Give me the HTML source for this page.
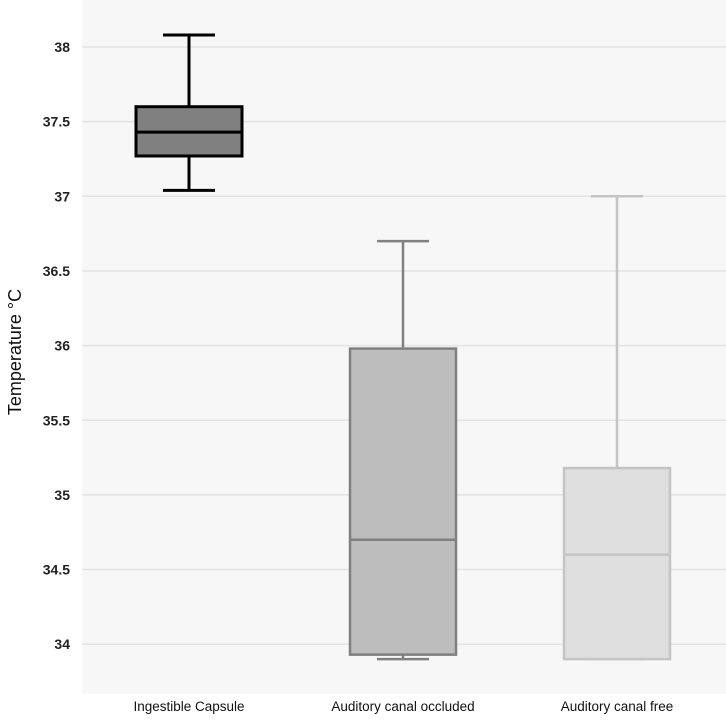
<!DOCTYPE html>
<html><head><meta charset="utf-8"><style>
body{margin:0;background:#fff;width:726px;height:716px;overflow:hidden}
text{font-family:"Liberation Sans",Arial,sans-serif}
</style></head><body>
<svg id="chart" width="726" height="716" xmlns="http://www.w3.org/2000/svg">
<rect x="82" y="0" width="644" height="694" fill="#f7f7f7"/>
<g id="grid"></g><g id="boxes"></g><g id="labels"></g>
<text transform="translate(21,352) rotate(-90)" text-anchor="middle" font-size="18" fill="#111">Temperature °C</text>
</svg>
<script>
const categories=["Ingestible Capsule","Auditory canal occluded","Auditory canal free"];
const whiskerLow=[37.04,33.9,33.9];
const q1=[37.27,33.93,33.9];
const median=[37.43,34.7,34.6];
const q3=[37.6,35.98,35.18];
const whiskerHigh=[38.08,36.7,37.0];
const yTicks=[34,34.5,35,35.5,36,36.5,37,37.5,38];
const yTickLabels=["34","34.5","35","35.5","36","36.5","37","37.5","38"];
const fills=["#808080","#bdbdbd","#dedede"];
const strokes=["#000","#808080","#c4c4c4"];
const NS="http://www.w3.org/2000/svg";
const y=v=>47+(38-v)*149.3;
const xc=i=>189+i*214;
function mk(t,a,p){const e=document.createElementNS(NS,t);for(const k in a)e.setAttribute(k,a[k]);p.appendChild(e);return e;}
const g=document.getElementById('grid'),b=document.getElementById('boxes'),l=document.getElementById('labels');
yTicks.forEach((v,i)=>{
 const ln=mk('line',{x1:82,x2:726,y1:y(v),y2:y(v),stroke:'#e2e2e8','stroke-width':1.5},g);
 
 
 const t=mk('text',{x:70,y:y(v)+5,'text-anchor':'end','font-size':14,'font-weight':'bold',fill:'#222'},l);
 t.textContent=yTickLabels[i];
 
 
});
categories.forEach((c,i)=>{
 const x=xc(i),sw=i==0?3:2.5,s=strokes[i];
 const grp=mk('g',{},b);
 
 
 mk('line',{x1:x,x2:x,y1:y(whiskerHigh[i]),y2:y(q3[i]),stroke:s,'stroke-width':sw},grp);
 mk('line',{x1:x,x2:x,y1:y(q1[i]),y2:y(whiskerLow[i]),stroke:s,'stroke-width':sw},grp);
 mk('line',{x1:x-26,x2:x+26,y1:y(whiskerHigh[i]),y2:y(whiskerHigh[i]),stroke:s,'stroke-width':sw},grp);
 mk('line',{x1:x-26,x2:x+26,y1:y(whiskerLow[i]),y2:y(whiskerLow[i]),stroke:s,'stroke-width':sw},grp);
 mk('rect',{x:x-53,y:y(q3[i]),width:106,height:y(q1[i])-y(q3[i]),fill:fills[i],stroke:s,'stroke-width':sw},grp);
 mk('line',{x1:x-53,x2:x+53,y1:y(median[i]),y2:y(median[i]),stroke:s,'stroke-width':sw},grp);
 const t=mk('text',{x:x,y:711,'text-anchor':'middle','font-size':13.5,fill:'#111'},l);
 t.textContent=c;
 
 
});
</script>
</body></html>
